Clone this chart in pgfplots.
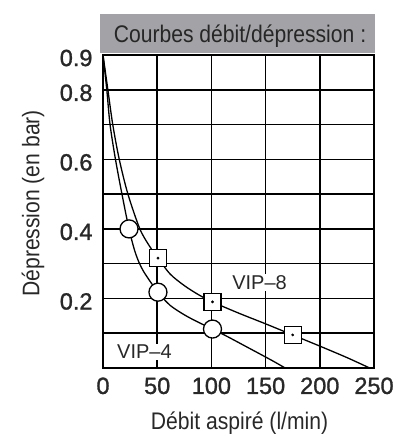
\documentclass[border=0pt]{standalone}
\usepackage{fontspec}
\setmainfont{Liberation Sans}
\newfontfamily\condfont[FakeStretch=0.88]{Liberation Sans}
\newfontfamily\tickfont[FakeBold=1.2]{Liberation Sans}
\usepackage{pgfplots}
\pgfplotsset{compat=1.18}
\definecolor{titlegray}{RGB}{163,163,167}
\definecolor{txt}{RGB}{40,40,40}
\begin{document}
\begin{tikzpicture}
\begin{axis}[
  scale only axis, width=271pt, height=313pt,
  xmin=0, xmax=250, ymin=0, ymax=0.9,
  xtick={0,50,100,150,200,250},
  ytick={0.2,0.4,0.6,0.8,0.9},
  yticklabels={0.2,0.4,0.6,0.8,0.9},
  minor ytick={0.1,0.3,0.5,0.7},
  grid=both,
  major grid style={black, line width=1.5pt},
  minor grid style={black, line width=1.5pt},
  axis line style={line width=2.7pt},
  major tick length=0pt, minor tick length=0pt,
  /pgf/number format/assume math mode=true,
  ticklabel style={font=\tickfont\fontsize{23.5}{23.5}\selectfont, text=txt},
  yticklabel style={xshift=-7pt, yshift=-3pt},
  xticklabel style={yshift=-6pt},
  xlabel={Débit aspiré (l/min)},
  ylabel={Dépression (en bar)},
  label style={font=\condfont\fontsize{24}{24}\selectfont, text=txt},
  xlabel style={at={(axis description cs:0.504,-0.176)}, anchor=center},
  ylabel style={at={(axis description cs:-0.258,0.526)}, anchor=center},
]
% VIP-4
\addplot[black, line width=1.3pt, smooth, tension=0.5] coordinates {
 (0,0.9) (3.5,0.8) (6.5,0.7) (11.5,0.6) (17.5,0.5) (24,0.4) (30,0.33) (37,0.28)
 (50.7,0.218) (62,0.18) (75,0.153) (87,0.133) (101,0.112) (115,0.09) (130,0.065)
 (145,0.04) (158,0.018) (168,0)};
% VIP-8
\addplot[black, line width=1.3pt, smooth, tension=0.5] coordinates {
 (0,0.9) (4.5,0.8) (9,0.7) (15,0.6) (23,0.5) (34,0.4) (43,0.35) (50.7,0.316)
 (62,0.27) (75,0.237) (88,0.211) (101,0.19) (125,0.158) (150,0.127) (175,0.095)
 (200,0.063) (225,0.03) (246,0)};
% markers
\addplot[only marks, mark=*, mark size=9pt, mark options={fill=white, draw=black, line width=1.3pt}]
 coordinates {(24,0.4) (50.7,0.218) (101,0.112)};
\addplot[only marks, mark=square*, mark size=8.5pt, mark options={fill=white, draw=black, line width=1.3pt}]
 coordinates {(50.7,0.316) (101,0.19) (175,0.095)};
\addplot[only marks, mark=*, mark size=1.2pt, mark options={fill=black, draw=black}]
 coordinates {(50.7,0.316) (101,0.19) (175,0.095)};
\node[font=\fontsize{20}{20}\selectfont, text=txt, fill=white, inner sep=1.5pt] at (axis cs:144.4,0.246) {VIP–8};
\node[font=\fontsize{20}{20}\selectfont, text=txt, fill=white, inner sep=1.5pt] at (axis cs:38.2,0.046) {VIP–4};
\end{axis}
\fill[titlegray] (-3pt,315pt) rectangle (272pt,354pt);
\node[anchor=base, font=\condfont\fontsize{24}{24}\selectfont, text=black!85, inner sep=0pt] at (137pt,325pt) {Courbes débit/dépression :};
\pgfresetboundingbox
\path[use as bounding box] (-103pt,-69pt) rectangle (300pt,368pt);
\end{tikzpicture}
\end{document}
